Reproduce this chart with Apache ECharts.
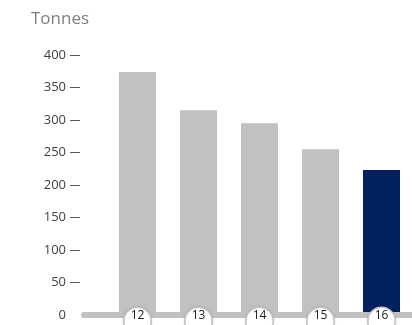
<!DOCTYPE html>
<html>
<head>
<meta charset="utf-8">
<script src="https://cdn.jsdelivr.net/npm/echarts@6/dist/echarts.min.js"></script>
<style>
  html, body { margin: 0; padding: 0; background: #fff; }
  #chart { width: 412px; height: 325px; }
</style>
</head>
<body>
<div id="chart"></div>
<script>
// Annual tonnage, years '12 to '16
var categories = ['12', '13', '14', '15', '16'];
var tonnes = [374, 315, 295, 255, 223];
var highlightIndex = 4;
var yTicks = { min: 0, max: 400, interval: 50 };

var grey = '#c0c1c0';
var navy = '#002060';
var fontFamily = '"Open Sans", "Noto Sans", sans-serif';

// tick dashes above the baseline (the zero line is the thick grey bar)
var tickMarks = [];
for (var t = yTicks.min + yTicks.interval; t <= yTicks.max; t += yTicks.interval) {
  tickMarks.push(t);
}

var chart = echarts.init(document.getElementById('chart'));

chart.setOption({
  animation: false,
  title: {
    text: 'Tonnes',
    left: 26,
    top: 6,
    textStyle: { color: '#7f7f7f', fontSize: 17, fontWeight: 'normal', fontFamily: fontFamily }
  },
  grid: [
    { left: 107, right: 0, top: 55, bottom: 10, containLabel: false, outerBoundsMode: 'none' },
    { left: 84, right: 0, top: 55, bottom: 10, containLabel: false, outerBoundsMode: 'none' }
  ],
  xAxis: [
    {
      type: 'category',
      gridIndex: 0,
      data: categories,
      z: 6,
      axisLine: { show: false },
      axisTick: { show: false },
      axisLabel: {
        margin: -7,
        color: '#1a1a1a',
        fontSize: 12,
        fontFamily: fontFamily,
        align: 'center',
        verticalAlign: 'top',
        width: 26,
        lineHeight: 14,
        padding: [1, 0, 11, 0],
        backgroundColor: '#fff',
        borderColor: '#c9c9c9',
        borderWidth: 1.5,
        borderRadius: 13,
        shadowColor: 'rgba(0,0,0,0.18)',
        shadowBlur: 2
      }
    },
    {
      type: 'category',
      gridIndex: 1,
      data: categories,
      z: 5,
      axisLine: { show: true, lineStyle: { color: grey, width: 6 } },
      axisTick: { show: false },
      axisLabel: { show: false }
    }
  ],
  yAxis: [
    {
      type: 'value',
      gridIndex: 0,
      min: yTicks.min,
      max: yTicks.max,
      interval: yTicks.interval,
      offset: 27,
      axisLine: { show: false },
      axisTick: { show: true, length: 10, customValues: tickMarks, lineStyle: { color: '#595959', width: 1 } },
      axisLabel: { margin: 14, color: '#404040', fontSize: 13, fontFamily: fontFamily },
      splitLine: { show: false }
    },
    {
      type: 'value',
      gridIndex: 1,
      min: yTicks.min,
      max: yTicks.max,
      show: false
    }
  ],
  series: [
    {
      type: 'bar',
      xAxisIndex: 0,
      yAxisIndex: 0,
      barWidth: 37,
      data: tonnes.map(function (v, i) {
        return { value: v, itemStyle: { color: i === highlightIndex ? navy : grey } };
      })
    }
  ]
});
</script>
</body>
</html>
